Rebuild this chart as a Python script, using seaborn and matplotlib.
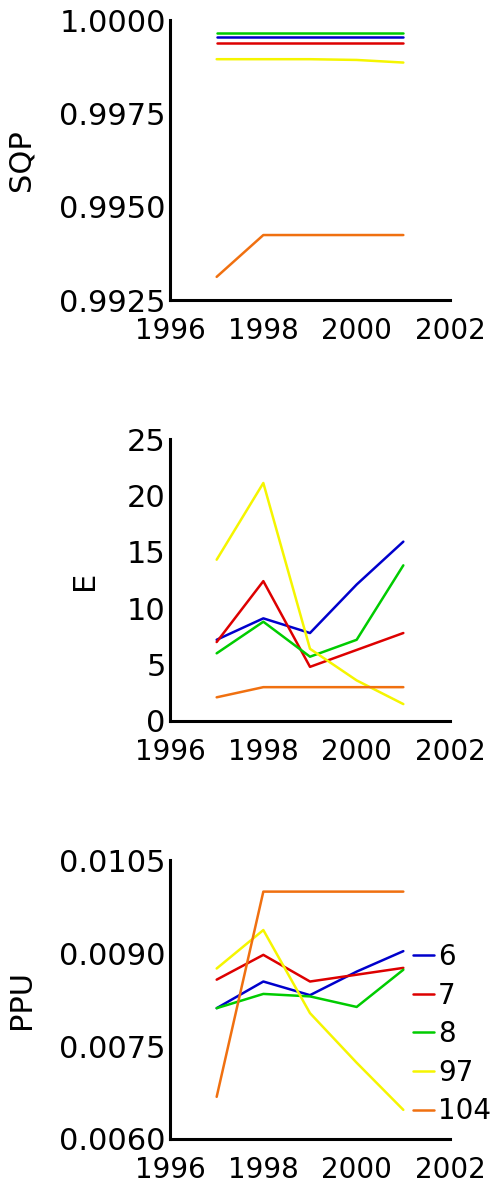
import numpy as np
import pandas as pd
import matplotlib
matplotlib.use("Agg")
import matplotlib.pyplot as plt
import seaborn as sns

years = [1997, 1998, 1999, 2000, 2001]
series = ["6", "7", "8", "97", "104"]
colors = ["#0000cc", "#dd0000", "#00cc00", "#f5f500", "#f07010"]

sqp_6 = [0.99955, 0.99955, 0.99955, 0.99955, 0.99955]
sqp_7 = [0.99938, 0.99938, 0.99938, 0.99938, 0.99938]
sqp_8 = [0.99964, 0.99964, 0.99964, 0.99964, 0.99964]
sqp_97 = [0.99895, 0.99895, 0.99895, 0.99893, 0.99886]
sqp_104 = [0.99312, 0.99424, 0.99424, 0.99424, 0.99424]

e_6 = [7.2, 9.1, 7.8, 12.1, 15.9]
e_7 = [7.0, 12.4, 4.8, 6.3, 7.8]
e_8 = [6.0, 8.8, 5.7, 7.2, 13.8]
e_97 = [14.3, 21.1, 6.4, 3.6, 1.5]
e_104 = [2.1, 3.0, 3.0, 3.0, 3.0]

ppu_6 = [0.00811, 0.00854, 0.00832, 0.00870, 0.00903]
ppu_7 = [0.00857, 0.00897, 0.00854, 0.00865, 0.00876]
ppu_8 = [0.00811, 0.00834, 0.00830, 0.00813, 0.00873]
ppu_97 = [0.00875, 0.00937, 0.00803, 0.00723, 0.00647]
ppu_104 = [0.00668, 0.00999, 0.00999, 0.00999, 0.00999]

x_ticks = [1996, 1998, 2000, 2002]
sqp_ticks = [0.9925, 0.9950, 0.9975, 1.0000]
e_ticks = [0, 5, 10, 15, 20, 25]
ppu_ticks = [0.0060, 0.0075, 0.0090, 0.0105]


def long_df(vals):
    rows = []
    for name, v in zip(series, vals):
        for y, val in zip(years, v):
            rows.append({"year": y, "value": val, "series": name})
    return pd.DataFrame(rows)


sns.set_style("white")
plt.rcParams["font.family"] = ["DejaVu Sans"]
for k in ["text.color", "axes.labelcolor", "xtick.color", "ytick.color"]:
    plt.rcParams[k] = "black"
FS_Y = 22
FS_X = 20
FS_L = 20

fig = plt.figure(figsize=(4.93, 11.86), dpi=100)
W, H = 493, 1186


def make_ax(left, top, right, bottom):
    return fig.add_axes([left / W, 1 - bottom / H, (right - left) / W, (bottom - top) / H])


ax1 = make_ax(170, 20, 450, 300)
ax2 = make_ax(170, 439, 450, 721)
ax3 = make_ax(170, 860, 450, 1139)

specs = [
    (ax1, [sqp_6, sqp_7, sqp_8, sqp_97, sqp_104], "SQP", (0.9925, 1.0), sqp_ticks, "{:.4f}", -0.48),
    (ax2, [e_6, e_7, e_8, e_97, e_104], "E", (0, 25), e_ticks, "{:d}", -0.255),
    (ax3, [ppu_6, ppu_7, ppu_8, ppu_97, ppu_104], "PPU", (0.006, 0.0105), ppu_ticks, "{:.4f}", -0.48),
]

pal = dict(zip(series, colors))
for i, (ax, vals, label, ylim, yt, fmt, lx) in enumerate(specs):
    df = long_df(vals)
    sns.lineplot(data=df, x="year", y="value", hue="series", hue_order=series,
                 palette=pal, ax=ax, linewidth=1.8, legend=(i == 2))
    ax.set_xlim(1996, 2002)
    ax.set_ylim(*ylim)
    ax.set_xticks(x_ticks)
    ax.set_xticklabels([str(t) for t in x_ticks], fontsize=FS_X)
    ax.set_yticks(yt)
    ax.set_yticklabels([fmt.format(t) for t in yt], fontsize=FS_Y)
    ax.set_xlabel("")
    ax.set_ylabel(label, fontsize=FS_Y, color="black")
    ax.yaxis.set_label_coords(lx, 0.5)
    for s in ["top", "right"]:
        ax.spines[s].set_visible(False)
    for s in ["left", "bottom"]:
        ax.spines[s].set_linewidth(2.2)
        ax.spines[s].set_color("black")
    ax.tick_params(axis="both", direction="in", length=7, width=2.2, colors="black")
    ax.tick_params(axis="y", pad=3)
    ax.tick_params(axis="x", pad=12)
    ax.patch.set_alpha(0)

leg = ax3.get_legend()
handles, labels = ax3.get_legend_handles_labels()
leg.remove()
fig.legend(handles, labels, loc="upper left", bbox_to_anchor=(413 / W, 1 - 943 / H),
           frameon=False, fontsize=FS_L, handlelength=0.75, handletextpad=0.15,
           labelspacing=0.38, borderpad=0, borderaxespad=0)

fig.savefig("out.png", dpi=100)
